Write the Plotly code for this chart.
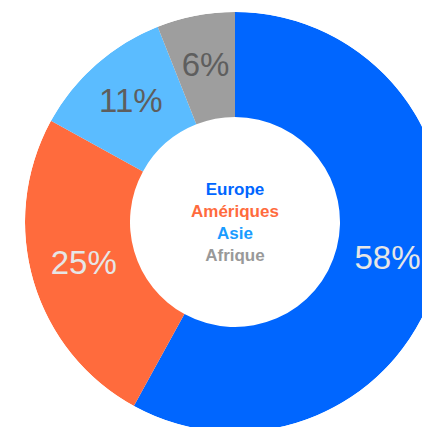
import plotly.graph_objects as go

# data
regions = ["Europe", "Amériques", "Asie", "Afrique"]
shares = [58, 25, 11, 6]
slice_colors = ["#0066ff", "#ff6b3d", "#5bbcff", "#9e9e9e"]
label_colors = ["#e6e6e6", "#e6e6e6", "#5e5e5e", "#5e5e5e"]
legend_colors = ["#0066ff", "#ff6b3d", "#1a9cff", "#999999"]

font_family = "Liberation Sans, Arial, sans-serif"

# angular size and mid angle of every slice (degrees, clockwise from the top)
total = float(sum(shares))
spans = [v / total * 360.0 for v in shares]
mid_angles = []
acc = 0.0
for s in spans:
    mid_angles.append(acc + s / 2.0)
    acc += s

hole = 0.5

fig = go.Figure()

# donut ring drawn as polar bars
fig.add_trace(
    go.Barpolar(
        theta=mid_angles,
        width=spans,
        r=[1 - hole] * len(shares),
        base=hole,
        marker=dict(color=slice_colors, line=dict(width=0)),
        showlegend=False,
        hoverinfo="none",
    )
)

# percentage labels, in the middle of the ring
fig.add_trace(
    go.Scatterpolar(
        theta=mid_angles,
        r=[(1 + hole) / 2] * len(shares),
        mode="text",
        text=["%d%%" % v for v in shares],
        textposition="middle center",
        textfont=dict(family=font_family, size=33, color=label_colors),
        showlegend=False,
        hoverinfo="none",
    )
)

# centre legend, one coloured line per region
centre_text = "<br>".join(
    "<span style='color:%s'><b>%s</b></span>" % (c, r)
    for r, c in zip(regions, legend_colors)
)
fig.add_annotation(
    text=centre_text,
    x=0.5,
    y=0.5,
    xref="paper",
    yref="paper",
    showarrow=False,
    align="center",
    font=dict(family=font_family, size=17),
)

fig.update_layout(
    width=437,
    height=424,
    margin=dict(l=17, r=0, t=4, b=0, pad=0),
    paper_bgcolor="white",
    plot_bgcolor="white",
    polar=dict(
        bgcolor="rgba(0,0,0,0)",
        domain=dict(x=[0, 1], y=[0, 1]),
        radialaxis=dict(range=[0, 1], visible=False, showgrid=False),
        angularaxis=dict(rotation=90, direction="clockwise", visible=False, showgrid=False),
    ),
)

fig.write_html("out.html")
